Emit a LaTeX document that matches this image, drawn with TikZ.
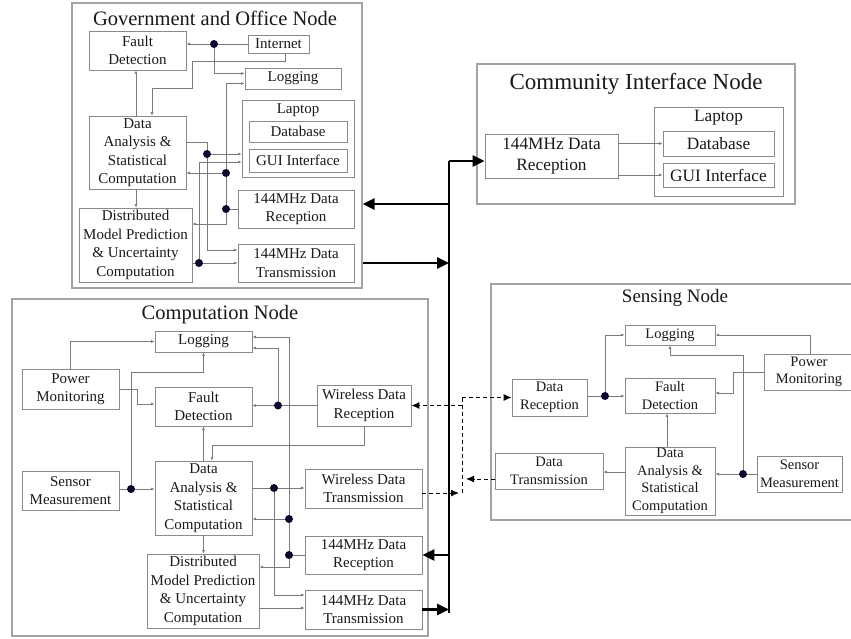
\documentclass[tikz,border=0pt]{standalone}
\usepackage{fontspec}
\setmainfont{Liberation Serif}
\usetikzlibrary{arrows.meta,calc}
\newcommand\fsz[2]{\fontsize{#1}{#2}\selectfont}
\definecolor{boxc}{HTML}{8A8A8A}
\definecolor{outc}{HTML}{A3A3A3}
\definecolor{wirec}{HTML}{7A7A7A}
\definecolor{dotc}{HTML}{0B0B30}
\definecolor{txt}{HTML}{1A1A1A}
\tikzset{
  bx/.style={draw=boxc, line width=0.9pt, inner sep=0pt, align=center, text=txt, font=\fsz{15}{18.5}},
  outer/.style={draw=outc, line width=1.1pt, inner sep=0pt},
  ttl/.style={inner sep=0pt, text=txt},
  lbl/.style={inner sep=0pt, text=txt, font=\fsz{15}{18.5}},
  cf/.style={font=\fsz{17.3}{21}},
  sf/.style={font=\fsz{14.5}{17.5}},
  wn/.style={draw=wirec, line width=0.8pt},
  w/.style={wn, -{Latex[length=3.5pt,width=3pt]}},
  thk/.style={draw=black, line width=2.6pt},
  thka/.style={thk, -{Triangle[length=12pt,width=11pt]}},
  dsh/.style={draw=black, line width=1pt, dash pattern=on 4pt off 3pt},
  dsha/.style={dsh, -{Latex[length=8pt,width=7pt]}},
}
\begin{document}
\begin{tikzpicture}[x=1pt,y=-1pt]
\useasboundingbox (0,0) rectangle (851,638);
\fill[white] (0,0) rectangle (851,638);
\clip (0,0) rectangle (851,638);

% ---------------- Government and Office Node ----------------
\node[outer, minimum width=290pt, minimum height=285pt] (gov) at (217,145.5) {};
\node[ttl, font=\fsz{20.5}{24}] (govT) at (215,18) {Government and Office Node};
\node[bx, minimum width=97pt, minimum height=39pt] (gFD) at (137.5,50.5) {Fault\\Detection};
\node[bx, minimum width=61pt, minimum height=18pt] (gInt) at (278.5,44) {Internet};
\node[bx, minimum width=96pt, minimum height=21pt] (gLog) at (293,78.5) {Logging};
\node[bx, minimum width=112pt, minimum height=77pt] (gLap) at (298,138.5) {};
\node[lbl] (gLapT) at (298,110) {Laptop};
\node[bx, minimum width=98pt, minimum height=21pt] (gDB) at (298,131.5) {Database};
\node[bx, minimum width=98pt, minimum height=23pt] (gGUI) at (298,160.5) {GUI Interface};
\node[bx, minimum width=97pt, minimum height=73pt] (gDA) at (137.5,152.5) {Data\\Analysis \&\\Statistical\\Computation};
\node[bx, minimum width=113pt, minimum height=74pt] (gDM) at (135.5,245) {Distributed\\Model Prediction\\\& Uncertainty\\Computation};
\node[bx, minimum width=116pt, minimum height=38pt] (gRx) at (296,209) {144MHz Data\\Reception};
\node[bx, minimum width=116pt, minimum height=38pt] (gTx) at (296,263) {144MHz Data\\Transmission};

\coordinate (gj1) at (214,44);
\coordinate (gj2) at (226,209);
\coordinate (gj3) at (226,173);
\coordinate (gj4) at (207,154);
\coordinate (gj5) at (199,263);
\draw[w] (gInt.west) -- (gFD.east |- gj1);
\draw[w] (gj1) |- ([yshift=5pt]gLog.west);
\draw[w] ([xshift=6.5pt]gInt.south) |- (192,61) |- (152,88) -- ([xshift=14.5pt]gDA.north);
\draw[w] ([xshift=-1.5pt]gDA.north) -- ([xshift=-1.5pt]gFD.south);
\draw[w] ([xshift=-1.5pt]gDA.south) -- ([xshift=-1.5pt]gDA.south |- gDM.north);
\draw[wn] (gRx.west) -- (gj2);
\draw[w] (gj2) |- ([yshift=-5pt]gLog.west);
\draw[w] (gj3) -- (gDA.east |- gj3);
\draw[w] (gj2) |- ([yshift=21pt]gDM.east);
\draw[w] ([yshift=10.5pt]gDA.east) -| (gj4) -- ([yshift=-15.5pt]gLap.west);
\draw[w] (gj4) |- ([yshift=13pt]gTx.west);
\draw[w] ([yshift=-18pt]gDM.east) -- (gTx.west);
\draw[w] (gj5) |- ([yshift=-23.5pt]gLap.west);

% ---------------- Community Interface Node ----------------
\node[outer, minimum width=318pt, minimum height=140pt] (comm) at (636,134) {};
\node[ttl, font=\fsz{23}{27}] (commT) at (636,84) {Community Interface Node};
\node[bx, cf, minimum width=133pt, minimum height=44pt] (cRx) at (551.5,156) {144MHz Data\\Reception};
\node[bx, minimum width=129pt, minimum height=89pt] (cLap) at (718.5,151.5) {};
\node[lbl, cf] (cLapT) at (718.5,118) {Laptop};
\node[bx, cf, minimum width=111pt, minimum height=25pt] (cDB) at (718.5,143.5) {Database};
\node[bx, cf, minimum width=111pt, minimum height=24pt] (cGUI) at (718.5,175) {GUI Interface};
\draw[w] ([yshift=12.5pt]cRx.east) -- (cDB.west);
\draw[w] ([yshift=-19pt]cRx.east) -- (cGUI.west);

% ---------------- Computation Node ----------------
\node[outer, minimum width=416pt, minimum height=337pt] (comp) at (220,467.5) {};
\node[ttl, font=\fsz{20.5}{24}] (compT) at (220,315) {Computation Node};
\node[bx, minimum width=97pt, minimum height=21pt] (kLog) at (203.5,341.5) {Logging};
\node[bx, minimum width=97pt, minimum height=40pt] (kPM) at (70.5,389) {Power\\Monitoring};
\node[bx, minimum width=97pt, minimum height=39pt] (kFD) at (203.5,406.5) {Fault\\Detection};
\node[bx, minimum width=94pt, minimum height=41pt] (kWRx) at (364,405.5) {Wireless Data\\Reception};
\node[bx, minimum width=97pt, minimum height=39pt] (kSM) at (70.5,490.5) {Sensor\\Measurement};
\node[bx, minimum width=97pt, minimum height=74pt] (kDA) at (203.5,498) {Data\\Analysis \&\\Statistical\\Computation};
\node[bx, minimum width=117pt, minimum height=39pt] (kWTx) at (363.5,488.5) {Wireless Data\\Transmission};
\node[bx, minimum width=112pt, minimum height=74pt] (kDM) at (203,591) {Distributed\\Model Prediction\\\& Uncertainty\\Computation};
\node[bx, minimum width=117pt, minimum height=38pt] (kRx) at (363.5,555) {144MHz Data\\Reception};
\node[bx, minimum width=117pt, minimum height=39pt] (kTx) at (363.5,609.5) {144MHz Data\\Transmission};

\coordinate (kj1) at (131,489);
\coordinate (kj2) at (278,405.5);
\coordinate (kj3) at (289,555);
\coordinate (kj4) at (289,519);
\coordinate (kj5) at (274,488);
\draw[w] (kPM.north) |- (kLog.west);
\draw[w] (kPM.east) -- (137,389) |- ([yshift=2.5pt]kFD.west);
\draw[w] ([yshift=1.5pt]kSM.east) -- ([yshift=9pt]kDA.west);
\draw[w] (kj1) |- (203.5,372) -- (kLog.south);
\draw[w] (kDA.north) -- (kFD.south);
\draw[w] (kWRx.west) -- (kFD.east |- kj2);
\draw[w] (kj2) |- ([yshift=-6.5pt]kLog.east);
\draw[w] (kWRx.south) |- (212,445) -- ([xshift=8.5pt]kDA.north);
\draw[wn] (kRx.west) -- (kj3);
\draw[w] (kj3) |- ([yshift=4.5pt]kLog.east);
\draw[w] (kj4) -- ([yshift=-21pt]kDA.east);
\draw[w] (kj3) |- ([yshift=24pt]kDM.east);
\draw[w] ([yshift=10pt]kDA.east) -- (kWTx.west |- kj5);
\draw[w] (kj5) |- ([yshift=14.5pt]kTx.west);
\draw[w] ([yshift=-17pt]kDM.east) -- ([yshift=1.5pt]kTx.west);
\draw[w] (kDA.south) -- (kDA.south |- kDM.north);

% ---------------- Sensing Node ----------------
\node[outer, minimum width=369pt, minimum height=236pt] (sens) at (675.5,402) {};
\node[ttl, font=\fsz{19}{23}] (sensT) at (675,298) {Sensing Node};
\node[bx, sf, minimum width=90pt, minimum height=20pt] (sLog) at (670,335) {Logging};
\node[bx, sf, minimum width=90pt, minimum height=35pt] (sFD) at (670,395.5) {Fault\\Detection};
\node[bx, sf, minimum width=90pt, minimum height=36pt] (sPM) at (809,372) {Power\\Monitoring};
\node[bx, sf, minimum width=75pt, minimum height=37pt] (sDRx) at (549.5,397.5) {Data\\Reception};
\node[bx, sf, minimum width=108pt, minimum height=36pt] (sDTx) at (549,471) {Data\\Transmission};
\node[bx, sf, minimum width=90pt, minimum height=68pt] (sDA) at (670,481) {Data\\Analysis \&\\Statistical\\Computation};
\node[bx, sf, minimum width=85pt, minimum height=36pt] (sSM) at (799.5,474) {Sensor\\Measurement};

\coordinate (sj1) at (605,396);
\coordinate (sj2) at (743,474);
\draw[w] ([yshift=1.5pt]sDRx.east) -- (sFD.west |- sj1);
\draw[w] (sj1) |- (sLog.west);
\draw[w] ([xshift=1pt]sPM.north) |- (sLog.east);
\draw[w] (sPM.west) -- (733,372) |- ([yshift=2.5pt]sFD.east);
\draw[w] (sSM.west) -- (sDA.east |- sj2);
\draw[w] (sj2) |- (670,355) -- (sLog.south);
\draw[w] ([xshift=-3pt]sDA.north) -- ([xshift=-3pt]sFD.south);
\draw[w] ([yshift=9pt]sDA.west) -- ([yshift=-1pt]sDTx.east);

% ---------------- thick 144MHz bus ----------------
\coordinate (busT) at (449,161);
\coordinate (busB) at (449,613);
\coordinate (busG1) at (449,204);
\coordinate (busG2) at (449,263);
\coordinate (busK1) at (449,555);
\coordinate (busK2) at (449,609.5);
\draw[thk] (busT) -- (busB);
\draw[thka] (busT) -- (cRx.west |- busT);
\draw[thka] (busG1) -- (gov.east |- busG1);
\draw[thka] (gov.east |- busG2) -- (busG2);
\draw[thka] (busK1) -- (kRx.east |- busK1);
\draw[thka] (kTx.east |- busK2) -- (busK2);

% ---------------- dashed wireless links ----------------
\coordinate (dv1) at (462,397.5);
\coordinate (dv2) at (462,493);
\draw[dsh] (dv1) -- (dv2);
\draw[dsha] (dv1 |- kWRx.east) -- (kWRx.east);
\draw[dsha] (dv1) -- (sDRx.west);
\draw[dsha] ([yshift=-4.5pt]kWTx.east) -- (459,493);
\draw[dsha] ([yshift=-8pt]sDTx.west) -- (466,479);

% ---------------- junction dots ----------------
\foreach \p in {gj1,gj2,gj3,gj4,gj5,kj1,kj2,kj3,kj4,kj5,sj1,sj2}
  \fill[dotc] (\p) circle (4pt);
\end{tikzpicture}
\end{document}
